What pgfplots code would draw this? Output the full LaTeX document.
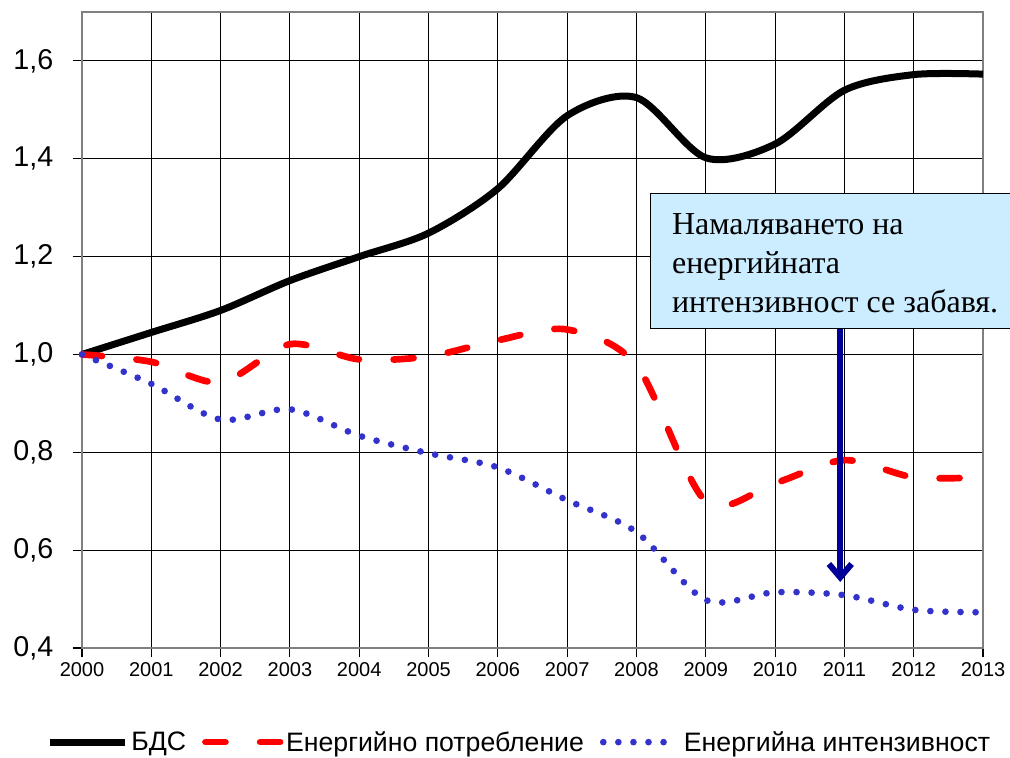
\documentclass[border=0pt]{standalone}
\usepackage{fontspec}
\setmainfont{Liberation Sans}
\newfontfamily\serifcyr{Liberation Serif}
\usepackage{pgfplots}
\pgfplotsset{compat=1.18}
\usetikzlibrary{arrows.meta}
\definecolor{enred}{RGB}{255,0,0}
\definecolor{intblue}{RGB}{51,51,204}
\definecolor{boxblue}{RGB}{204,236,255}
\definecolor{arrowblue}{RGB}{0,0,153}
\definecolor{axisgray}{RGB}{128,128,128}
\begin{document}
\begin{tikzpicture}[x=1pt,y=1pt]
\useasboundingbox (-61.5,-81.75) rectangle (696,486);
\begin{axis}[
  at={(0,0)}, anchor=south west,
  scale only axis, width=675.75pt, height=477pt,
  xmin=2000, xmax=2013, ymin=0.4, ymax=1.7,
  xtick={2000,2001,2002,2003,2004,2005,2006,2007,2008,2009,2010,2011,2012,2013},
  ytick={0.4,0.6,0.8,1.0,1.2,1.4,1.6},
  grid=major,
  major grid style={black, line width=0.8pt},
  axis line style={axisgray, line width=1.6pt},
  tick style={black, line width=0.8pt},
  tick align=outside, major tick length=7pt,
  xtick pos=bottom, ytick pos=left,
  /pgf/number format/assume math mode=true,
  yticklabel style={font=\fontsize{21.5}{24}\selectfont, xshift=-11pt, /pgf/number format/.cd, fixed, fixed zerofill, precision=1, use comma},
  xticklabel style={font=\fontsize{15}{18}\selectfont, /pgf/number format/.cd, 1000 sep={}},
  clip=false,
  legend style={at={(0.486,-0.148)}, anchor=center, draw=none, fill=none,
    legend columns=3, font=\fontsize{20}{23}\selectfont,
    /tikz/every even column/.append style={column sep=10pt},
    /tikz/every odd column/.append style={column sep=0pt}},
  legend image code/.code={\draw[#1] (0pt,0pt) -- (56pt,0pt);},
]
\addplot[black, line width=5.25pt, smooth, tension=0.5] coordinates {
(2000,1.0) (2001,1.045) (2002,1.09) (2003,1.151) (2004,1.20) (2005,1.248)
(2006,1.339) (2007,1.488) (2008,1.525) (2009,1.402) (2010,1.43) (2011,1.54)
(2012,1.572) (2013,1.573)};
\addlegendentry{БДС}
\addplot[enred, line width=5pt, line cap=round, dash pattern=on 15pt off 26pt, smooth, tension=0.5] coordinates {
(2000,1.0) (2001,0.985) (2002,0.943) (2003,1.021) (2004,0.99) (2005,0.996)
(2006,1.029) (2007,1.051) (2008,0.978) (2009,0.70) (2010,0.737) (2011,0.784)
(2012,0.749) (2013,0.749)};
\addlegendentry{Енергийно потребление}
\addplot[intblue, line width=5pt, line cap=round, dash pattern=on 0pt off 11.3pt, smooth, tension=0.5] coordinates {
(2000,1.0) (2001,0.94) (2002,0.867) (2003,0.888) (2004,0.834) (2005,0.798)
(2006,0.769) (2007,0.702) (2008,0.637) (2009,0.498) (2010,0.514) (2011,0.508)
(2012,0.478) (2013,0.473)};
\addlegendentry{Енергийна интензивност}
\draw[black, line width=1.2pt, fill=boxblue] (axis cs:2008.2,1.053) rectangle (axis cs:2013.6,1.329);
\node[anchor=north west, align=left, inner sep=0pt, font=\serifcyr\fontsize{24}{29}\selectfont]
  at (axis cs:2008.51,1.288) {Намаляването на\\енергийната\\интензивност се забавя.};
\fill[arrowblue] (axis cs:2010.897,1.053) rectangle (axis cs:2010.983,0.548);
\draw[arrowblue, line width=4.5pt, -{Straight Barb[length=10pt, width=17pt]}]
  (axis cs:2010.94,0.60) -- (axis cs:2010.94,0.535);
\end{axis}
\end{tikzpicture}
\end{document}
